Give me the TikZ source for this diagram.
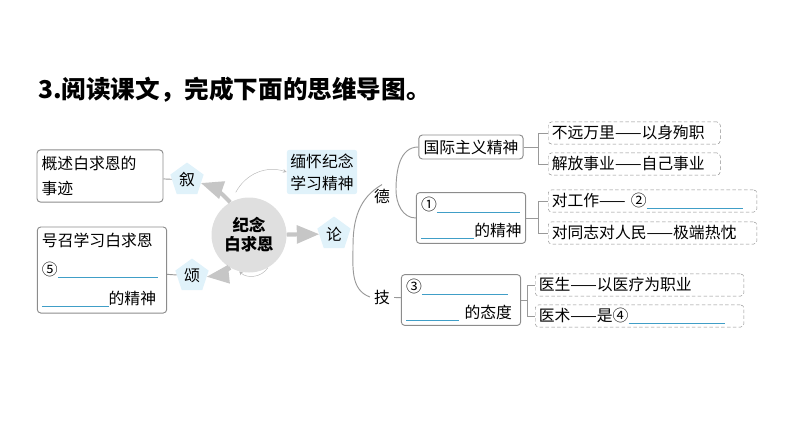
\documentclass[tikz,border=0pt]{standalone}
\usepackage{fontspec}
\setmainfont{Noto Sans CJK SC}
\usepackage{tikz}
\usetikzlibrary{shapes.geometric, arrows}
\definecolor{lineblue}{rgb}{0.25,0.62,0.78}
\definecolor{paleblue}{rgb}{0.88,0.95,0.98}
\definecolor{boxgray}{rgb}{0.55,0.55,0.55}
\tikzstyle{topic} = [rectangle, rounded corners=3pt, draw=boxgray, thick, align=left, inner sep=4pt]
\tikzstyle{leaf} = [rectangle, rounded corners=3pt, draw=boxgray, densely dashed, align=left, inner sep=3pt, text depth=2pt, text height=11pt]
\tikzstyle{penta} = [regular polygon, regular polygon sides=5, fill=paleblue, inner sep=1pt, minimum size=1.05cm]
\tikzstyle{bigarrow} = [line width=3.5pt, draw=gray!45, -triangle 45]
\tikzstyle{thinarrow} = [gray!55, ->, >=stealth]
\tikzstyle{link} = [gray!80, thick]
\newcommand{\blank}[1]{\textcolor{lineblue}{\rule[-2pt]{#1}{0.6pt}}}
\begin{document}
\begin{tikzpicture}[x=0.03cm, y=-0.03cm, font=\fontsize{13.5}{19}\selectfont]
        \useasboundingbox (0,0) rectangle (794,447);
        \node[anchor=west, font=\fontsize{21}{23}\selectfont\bfseries] (title) at (34,90) {3.阅读课文，完成下面的思维导图。};

        \node (root) [circle, fill=gray!25, minimum size=2.25cm, align=center, font=\fontsize{14}{16}\selectfont\bfseries] at (249,235) {纪念\\白求恩};
        \node (xu) [penta] at (187,180) {叙};
        \node (song) [penta] at (192,276) {颂};
        \node (lun) [penta] at (334,234) {论};
        \node (memo) [fill=paleblue, align=left, rounded corners=2pt, inner sep=3pt] at (322,172) {缅怀纪念\\学习精神};

        \node (story) [topic, text width=3.5cm, font=\fontsize{13.5}{22}\selectfont, inner ysep=5pt] at (100,176) {概述白求恩的\\事迹};
        \node (call) [topic, text width=3.6cm, font=\fontsize{13.5}{25}\selectfont, inner ysep=5pt] at (102,270) {号召学习白求恩\\⑤\blank{3.0cm}\\\blank{2cm}的精神};

        \node (de) at (382,196) {德};
        \node (ji) at (382,297) {技};
        \node (intl) [topic] at (471,147) {国际主义精神};
        \node (one) [topic, text width=3.0cm, font=\fontsize{13.5}{22}\selectfont] at (471,218) {①\blank{2.5cm}\\\blank{1.6cm}的精神};
        \node (three) [topic, text width=3.3cm, font=\fontsize{13.5}{22}\selectfont] at (461,300) {③\blank{2.6cm}\\\blank{1.6cm} 的态度};

        \node (l1) [leaf, text width=4.95cm, anchor=west] at (548,133) {不远万里——以身殉职};
        \node (l2) [leaf, text width=4.95cm, anchor=west] at (548,164) {解放事业——自己事业};
        \node (l3) [leaf, text width=6.05cm, anchor=west] at (548,201) {对工作—— ②\blank{2.9cm}};
        \node (l4) [leaf, text width=6.05cm, anchor=west] at (548,233) {对同志对人民——极端热忱};
        \node (l5) [leaf, text width=6.05cm, anchor=west] at (535,285) {医生——以医疗为职业};
        \node (l6) [leaf, text width=6.05cm, anchor=west] at (535,316) {医术——是④\blank{2.9cm}};

        \draw [bigarrow] (root.120) to[bend right=15] (xu);
        \draw [bigarrow] (root.240) to[bend left=15] (song);
        \draw [bigarrow] (root) -- (lun);
        \draw [thinarrow] (root.95) ++(-10,-5) to[bend left=40] (memo.west);
        \draw [thinarrow] (root.300) to[bend left=50] (root.255);

        \draw [link] (xu) -- (story);
        \draw [link] (song) -- (call);
        \draw [link] (de.north) to[out=-150, in=90] (353,246) to[out=-90, in=160] (ji.west);
        \draw [link] (intl.west) to[out=180, in=90] (396,190) to[out=-90, in=180] (one.west);
        \draw [link] (ji) -- (three);

        \draw [link] (intl.east) -- (538,147) |- (l1.west);
        \draw [link] (538,147) |- (l2.west);
        \draw [link] (one.east) -- (538,218) |- (l3.west);
        \draw [link] (538,218) |- (l4.west);
        \draw [link] (three.east) -- (527,300) |- (l5.west);
        \draw [link] (527,300) |- (l6.west);
    \end{tikzpicture}
\end{document}
